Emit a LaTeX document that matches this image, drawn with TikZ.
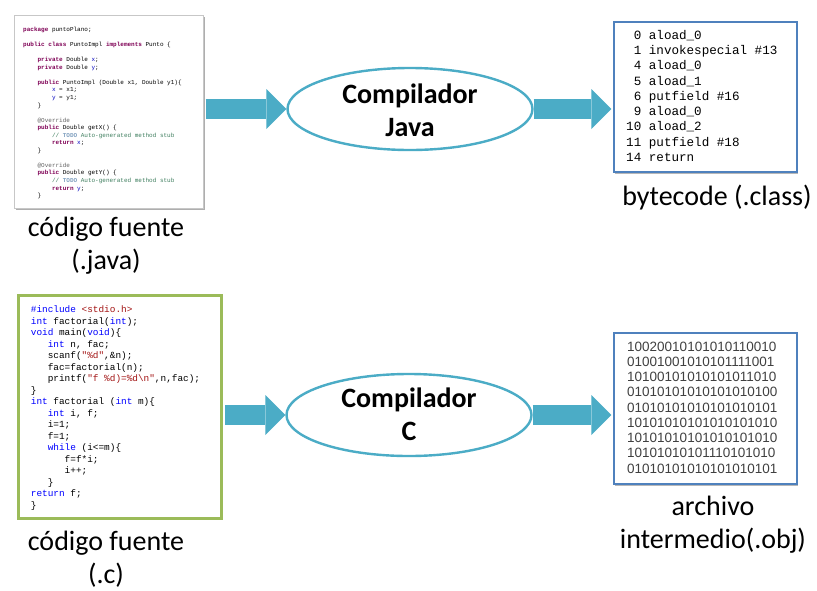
\documentclass[tikz,border=0pt]{standalone}
\usepackage{fontspec}
\setmainfont{Carlito}
\newfontfamily\monofont{Liberation Mono}
\newfontfamily\binfont{Liberation Sans}
\usetikzlibrary{arrows.meta,shapes.geometric,shadows}

\definecolor{flowteal}{HTML}{4BACC6}
\definecolor{javakw}{HTML}{7F0055}
\definecolor{javafield}{HTML}{0000C0}
\definecolor{javacomment}{HTML}{3F7F5F}
\definecolor{javatodo}{HTML}{7F9FBF}
\definecolor{javaanno}{HTML}{646464}
\definecolor{ckw}{HTML}{0000FF}
\definecolor{cstr}{HTML}{A31515}
\definecolor{cframe}{HTML}{9BBB59}
\definecolor{boxblue}{HTML}{4F81BD}
\definecolor{bingrey}{HTML}{404040}

% Java syntax colouring
\newcommand\jk[1]{\textcolor{javakw}{\bfseries #1}}
\newcommand\jf[1]{\textcolor{javafield}{#1}}
\newcommand\jtab{\hspace*{2.4em}}
% C syntax colouring
\newcommand\ck[1]{\textcolor{ckw}{#1}}
\newcommand\cs[1]{\textcolor{cstr}{#1}}
\newcommand\ctab{\hspace*{1.8em}}

\tikzset{
  every node/.style={inner sep=0pt},
  codetext/.style={anchor=north west, align=left},
  compiler/.style={ellipse, draw=flowteal, line width=2.4pt, fill=white,
    minimum width=245pt, minimum height=82pt},
  cmptext/.style={anchor=north, align=center,
    font=\fontsize{28}{33}\selectfont\bfseries},
  caption/.style={anchor=north, align=center,
    font=\fontsize{28}{33}\selectfont},
  blockarrow/.style={draw=flowteal, line width=20pt,
    -{Triangle[length=20pt,width=40pt,line width=0pt]}},
}

\begin{document}
\begin{tikzpicture}[x=1pt,y=-1pt]
\useasboundingbox[fill=white] (0,0) rectangle (817,590);

% ---------- Java source panel ----------
\node[draw=black!22, line width=1pt, fill=white, minimum width=189pt, minimum height=193pt,
  drop shadow={shadow xshift=1.5pt, shadow yshift=-1.5pt, opacity=0.45, fill=black!70}]
  (javabox) at (108.5,111.5) {};
\node[codetext, font=\monofont\fontsize{6}{7.55}\selectfont] (javacode) at (23,25.3) {%
\rule{0pt}{1em}\jk{package} puntoPlano;\\
\mbox{}\\
\jk{public} \jk{class} PuntoImpl \jk{implements} Punto \{\\
\mbox{}\\
\jtab\jk{private} Double \jf{x};\\
\jtab\jk{private} Double \jf{y};\\
\mbox{}\\
\jtab\jk{public} PuntoImpl (Double x1, Double y1)\{\\
\jtab\jtab\jf{x} = x1;\\
\jtab\jtab\jf{y} = y1;\\
\jtab\}\\
\mbox{}\\
\jtab\textcolor{javaanno}{@Override}\\
\jtab\jk{public} Double getX() \{\\
\jtab\jtab\textcolor{javacomment}{// \textcolor{javatodo}{\bfseries TODO} Auto-generated method stub}\\
\jtab\jtab\jk{return} \jf{x};\\
\jtab\}\\
\mbox{}\\
\jtab\textcolor{javaanno}{@Override}\\
\jtab\jk{public} Double getY() \{\\
\jtab\jtab\textcolor{javacomment}{// \textcolor{javatodo}{\bfseries TODO} Auto-generated method stub}\\
\jtab\jtab\jk{return} \jf{y};\\
\jtab\}};
\node[caption] (javacap) at (106,208) {\rule{0pt}{1em}código fuente\\(.java)};

% ---------- C source panel ----------
\node[draw=cframe, line width=3pt, fill=white, minimum width=203pt, minimum height=223pt,
  drop shadow={shadow xshift=1.5pt, shadow yshift=-1.5pt, opacity=0.3, fill=black!60}]
  (cbox) at (120,407) {};
\node[codetext, font=\monofont\fontsize{9.4}{11.5}\selectfont] (ccode) at (30.7,303) {%
\rule{0pt}{1em}\ck{\#include} \cs{<stdio.h>}\\
\ck{int} factorial(\ck{int});\\
\ck{void} main(\ck{void})\{\\
\ctab\ck{int} n, fac;\\
\ctab scanf(\cs{"\%d"},\&n);\\
\ctab fac=factorial(n);\\
\ctab printf(\cs{"f \%d)=\%d\textbackslash n"},n,fac);\\
\}\\
\ck{int} factorial (\ck{int} m)\{\\
\ctab\ck{int} i, f;\\
\ctab i=1;\\
\ctab f=1;\\
\ctab\ck{while} (i<=m)\{\\
\ctab\ctab f=f*i;\\
\ctab\ctab i++;\\
\ctab\}\\
\ck{return} f;\\
\}};
\node[caption] (ccap) at (106,522) {\rule{0pt}{1em}código fuente\\(.c)};

% ---------- compilers ----------
\node[compiler] (cjava) at (410,109) {};
\node[cmptext] (cjavatext) at (410,75) {\rule{0pt}{1em}Compilador\\Java};
\node[compiler] (cc) at (409,415) {};
\node[cmptext] (cctext) at (409,379) {\rule{0pt}{1em}Compilador\\C};

% ---------- bytecode output ----------
\node[draw=boxblue, line width=1.2pt, fill=white, minimum width=183pt, minimum height=150pt,
  drop shadow={shadow xshift=1pt, shadow yshift=-2pt, opacity=0.4, fill=black!70}]
  (bytebox) at (705.5,97) {};
\node[codetext, font=\monofont\fontsize{12.6}{15.25}\selectfont] (bytecode) at (626,26.5) {%
\rule{0pt}{1em}\phantom{0}0 aload\_0\\
\phantom{0}1 invokespecial \#13\\
\phantom{0}4 aload\_0\\
\phantom{0}5 aload\_1\\
\phantom{0}6 putfield \#16\\
\phantom{0}9 aload\_0\\
10 aload\_2\\
11 putfield \#18\\
14 return};
\node[caption] (bytecap) at (717,177) {\rule{0pt}{1em}bytecode (.class)};

% ---------- object file output ----------
\node[draw=boxblue, line width=1.2pt, fill=white, minimum width=183pt, minimum height=151pt,
  drop shadow={shadow xshift=1pt, shadow yshift=-2pt, opacity=0.4, fill=black!70}]
  (objbox) at (705.5,408.5) {};
\node[codetext, font=\binfont\fontsize{13.5}{15.25}\selectfont, text=bingrey] (objcode) at (627,337.3) {%
\rule{0pt}{1em}10020010101010110010\\
01001001010101111001\\
10100101010101011010\\
01010101010101010100\\
01010101010101010101\\
10101010101010101010\\
10101010101010101010\\
10101010101110101010\\
01010101010101010101};
\node[caption] (objcap) at (713,487) {\rule{0pt}{1em}archivo\\intermedio(.obj)};

% ---------- flow arrows ----------
\draw[blockarrow, shorten <=2pt] (javabox.east |- cjava.west) -- (cjava.west);
\draw[blockarrow, shorten >=2pt] (cjava.east) -- (bytebox.west |- cjava.east);
\draw[blockarrow, shorten <=2pt] (cbox.east |- cc.west) -- (cc.west);
\draw[blockarrow, shorten >=2pt] (cc.east) -- (objbox.west |- cc.east);
\end{tikzpicture}
\end{document}
